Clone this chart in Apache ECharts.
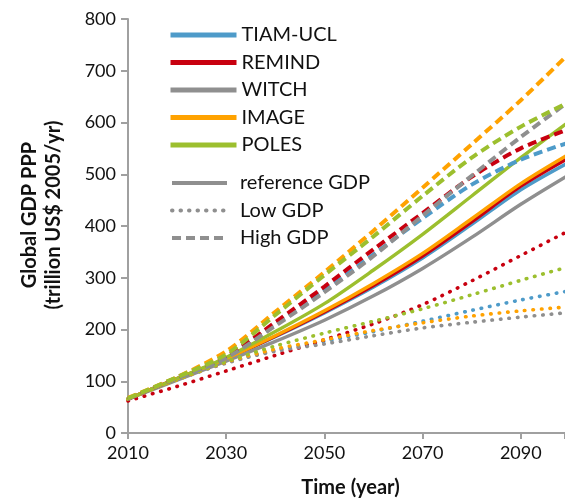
<!DOCTYPE html>
<html>
<head>
<meta charset="UTF-8">
<title>Global GDP PPP</title>
<script src="https://cdn.jsdelivr.net/npm/echarts@6/dist/echarts.min.js"></script>
<style>
  html, body { margin: 0; padding: 0; background: #fff; }
  #main { width: 565px; height: 500px; }
</style>
</head>
<body>
<div id="main"></div>
<script>
// years and model names
const years = [2010, 2020, 2030, 2040, 2050, 2060, 2070, 2080, 2090, 2100];
const models = ['TIAM-UCL', 'REMIND', 'WITCH', 'IMAGE', 'POLES'];
const modelColors = ['#4e9bc9', '#c8000f', '#8f8f8f', '#ffa200', '#9cbf2e'];
const scenarios = ['reference GDP', 'Low GDP', 'High GDP'];

// trillion US$ 2005/yr, one row per model (same order as models)
const refGDP = [
  [66, 105, 143, 186, 232, 282, 338, 403, 470, 524],
  [66, 105, 143, 187, 234, 285, 342, 408, 477, 533],
  [66, 102, 139, 177, 218, 265, 318, 378, 442, 500],
  [66, 105, 144, 188, 236, 289, 347, 414, 482, 540],
  [66, 105, 146, 196, 250, 315, 384, 458, 532, 603]
];
const lowGDP = [
  [66, 103, 136, 160, 177, 196, 216, 237, 257, 275],
  [62, 90, 120, 150, 180, 211, 248, 294, 343, 392],
  [66, 103, 135, 158, 172, 188, 203, 214, 224, 233],
  [66, 103, 137, 162, 180, 198, 213, 226, 236, 244],
  [66, 104, 138, 168, 193, 216, 240, 267, 295, 322]
];
const highGDP = [
  [66, 106, 146, 210, 275, 345, 415, 480, 528, 562],
  [66, 107, 148, 214, 283, 355, 425, 495, 550, 588],
  [66, 106, 145, 207, 272, 342, 420, 497, 572, 642],
  [68, 108, 158, 234, 311, 391, 474, 558, 643, 735],
  [67, 108, 152, 228, 305, 380, 458, 532, 592, 640]
];

const font = 'Lato';
const lineKinds = [
  { rows: refGDP, style: { type: 'solid', width: 3.4 } },
  { rows: lowGDP, style: { type: [0.5, 8], width: 3.6, cap: 'round' } },
  { rows: highGDP, style: { type: [9, 5], width: 4, cap: 'butt' } }
];

var series = [];
lineKinds.forEach(function (kind) {
  models.forEach(function (m, i) {
    series.push({
      name: m,
      type: 'line',
      symbol: 'none',
      smooth: 0.3,
      silent: true,
      data: years.map(function (y, j) { return [y, kind.rows[i][j]]; }),
      lineStyle: Object.assign({ color: modelColors[i] }, kind.style),
      itemStyle: { color: modelColors[i] }
    });
  });
});
// empty series just for the scenario legend
scenarios.forEach(function (s, k) {
  series.push({
    name: s,
    type: 'line',
    symbol: 'none',
    data: [],
    lineStyle: Object.assign({}, lineKinds[k].style, { color: '#8f8f8f' }),
    itemStyle: { color: '#8f8f8f' }
  });
});

var myChart = echarts.init(document.getElementById('main'));
myChart.setOption({
  animation: false,
  grid: { left: 128, right: 0, top: 19, bottom: 67, outerBoundsMode: 'none' },
  legend: [
    {
      data: models,
      orient: 'vertical',
      left: 163,
      top: 20,
      itemWidth: 66,
      itemHeight: 14,
      itemGap: 7.5,
      lineStyle: { width: 5 },
      itemStyle: { opacity: 0 },
      textStyle: { fontFamily: font, fontSize: 20, color: '#111' }
    },
    {
      data: scenarios,
      orient: 'vertical',
      left: 165,
      top: 168,
      itemWidth: 55,
      itemHeight: 14,
      itemGap: 7.5,
      lineStyle: { width: 4 },
      itemStyle: { opacity: 0 },
      textStyle: { fontFamily: font, fontSize: 20, color: '#111', padding: [0, 0, 0, 8] }
    }
  ],
  xAxis: {
    type: 'value',
    min: 2010,
    max: 2099,
    interval: 20,
    name: 'Time (year)',
    nameLocation: 'middle',
    nameGap: 45,
    nameTextStyle: { fontFamily: font, fontSize: 20, fontWeight: 'bold', color: '#111', padding: [0, 0, 0, 8] },
    splitLine: { show: false },
    axisLine: { lineStyle: { color: '#a0a0a0', width: 2 } },
    axisTick: { lineStyle: { color: '#a0a0a0', width: 2 }, length: 6 },
    axisLabel: {
      fontFamily: font, fontSize: 18, color: '#111', margin: 11,
      formatter: function (v) { return (v - 2010) % 20 === 0 ? String(v) : ''; }
    }
  },
  yAxis: {
    type: 'value',
    min: 0,
    max: 800,
    interval: 100,
    name: 'Global GDP PPP\n(trillion US$ 2005/yr)',
    nameLocation: 'middle',
    nameRotate: 90,
    nameGap: 62,
    nameTextStyle: { fontFamily: font, fontSize: 20, fontWeight: 'bold', color: '#111', lineHeight: 24, padding: [0, 0, 0, 22] },
    splitLine: { show: false },
    axisLine: { show: true, lineStyle: { color: '#a0a0a0', width: 2 } },
    axisTick: { show: true, lineStyle: { color: '#a0a0a0', width: 2 }, length: 7 },
    axisLabel: { fontFamily: font, fontSize: 18, color: '#111', margin: 12 }
  },
  series: series
});
</script>
</body>
</html>
